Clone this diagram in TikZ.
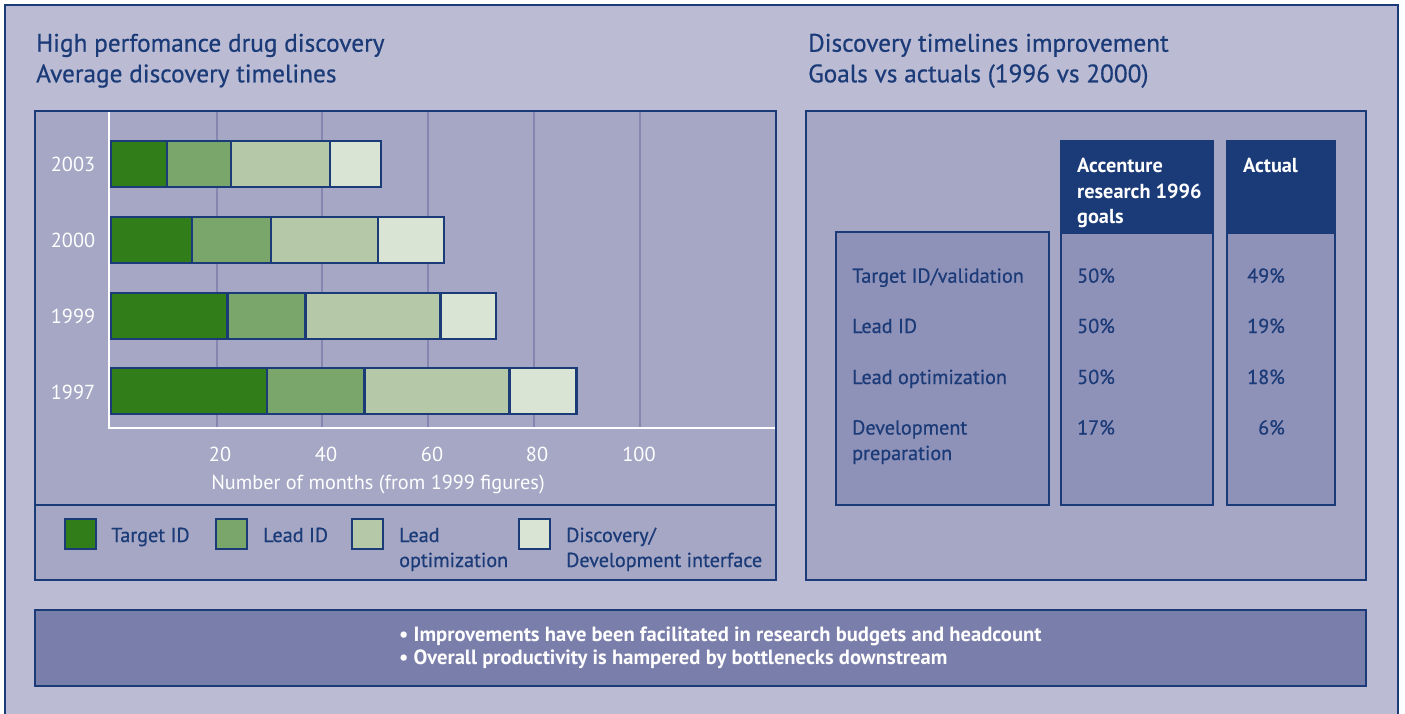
\documentclass[tikz,border=0pt]{standalone}
\usepackage{fontspec}
\setmainfont{PT Sans}
\newfontfamily\medfont[FakeBold=0.6]{PT Sans}
\definecolor{navy}{HTML}{1B3A78}
\definecolor{outerbg}{HTML}{BBBCD3}
\definecolor{panelbg}{HTML}{A5A7C5}
\definecolor{colbg}{HTML}{8F92B8}
\definecolor{botbg}{HTML}{7A7EAA}
\definecolor{gridc}{HTML}{8486B0}
\definecolor{gA}{HTML}{317D1A}
\definecolor{gB}{HTML}{7AA66B}
\definecolor{gC}{HTML}{B5C9A8}
\definecolor{gD}{HTML}{DAE4D4}
\begin{document}
\begin{tikzpicture}[x=1pt,y=-1pt,
  frame/.style={draw=navy,line width=2.5pt},
  seg/.style={draw=navy,line width=2.5pt},
  gridline/.style={draw=gridc,line width=2pt},
  title/.style={anchor=base west,inner sep=0pt,text=navy,font=\medfont\fontsize{25.3}{30}\selectfont},
  whitelbl/.style={anchor=base,inner sep=0pt,text=white,font=\fontsize{20.3}{24}\selectfont},
  navylbl/.style={anchor=base west,inner sep=0pt,text=navy,font=\medfont\fontsize{20.2}{24}\selectfont},
  headlbl/.style={anchor=base west,inner sep=0pt,text=white,font=\bfseries\fontsize{20.3}{24}\selectfont},
  botlbl/.style={anchor=base west,inner sep=0pt,text=white,font=\bfseries\fontsize{20.6}{24}\selectfont},
  legbox/.style={draw=navy,line width=2.5pt}
]
\useasboundingbox (0,0) rectangle (1405,714);
\fill[white] (0,0) rectangle (1405,714);
\draw[frame,line width=2pt,fill=outerbg] (5,5) rectangle (1398,740);

% titles
\node[title] (t1) at (36,51.7) {High perfomance drug discovery};
\node[title] (t2) at (36,82.3) {Average discovery timelines};
\node[title] (t3) at (808,51.7) {Discovery timelines improvement};
\node[title] (t4) at (808,82.3) {Goals vs actuals (1996 vs 2000)};

% left panel
\draw[frame,fill=panelbg] (35,111) rectangle (776,580);
\draw[frame] (35,505) -- (776,505);
\foreach \gx in {217,322,428,534,640} \draw[gridline] (\gx,112) -- (\gx,428);
\draw[white,line width=2.5pt] (109,112) -- (109,428) -- (775,428);

\foreach \yc/\a/\b/\c/\d/\e in {164/111/167/231/330/381, 240/111/192/271/378/444, 316/111/227.5/305.5/440.5/496, 391/111/267/364.5/509.5/576.5}{
  \draw[seg,fill=gA] (\a,\yc-23) rectangle (\b,\yc+23);
  \draw[seg,fill=gB] (\b,\yc-23) rectangle (\c,\yc+23);
  \draw[seg,fill=gC] (\c,\yc-23) rectangle (\d,\yc+23);
  \draw[seg,fill=gD] (\d,\yc-23) rectangle (\e,\yc+23);
}
\node[whitelbl] (y2003) at (73,171.7) {2003};
\node[whitelbl] (y2000) at (73,247.7) {2000};
\node[whitelbl] (y1999) at (73,323.7) {1999};
\node[whitelbl] (y1997) at (73,399) {1997};
\node[whitelbl] (x20) at (220,461) {20};
\node[whitelbl] (x40) at (326,461) {40};
\node[whitelbl] (x60) at (432,461) {60};
\node[whitelbl] (x80) at (537,461) {80};
\node[whitelbl] (x100) at (639,461) {100};
\node[whitelbl] (xt) at (378,489.3) {Number of months (from 1999 figures)};

% legend
\draw[legbox,fill=gA] (65,519) rectangle (96,549);
\node[navylbl] (l1) at (111,542) {Target ID};
\draw[legbox,fill=gB] (216,519) rectangle (247,549);
\node[navylbl] (l2) at (263,542) {Lead ID};
\draw[legbox,fill=gC] (352,519) rectangle (383,549);
\node[navylbl] (l3a) at (399,542) {Lead};
\node[navylbl] (l3b) at (399,567) {optimization};
\draw[legbox,fill=gD] (519,519) rectangle (550,549);
\node[navylbl] (l4a) at (566,542) {Discovery/};
\node[navylbl] (l4b) at (566,567) {Development interface};

% right panel
\draw[frame,fill=panelbg] (806,111) rectangle (1366,580);
\draw[frame,fill=navy] (1061,141) rectangle (1213,233);
\draw[frame,fill=colbg] (1061,233) rectangle (1213,505);
\draw[frame,fill=navy] (1227,141) rectangle (1335,233);
\draw[frame,fill=colbg] (1227,233) rectangle (1335,505);
\draw[frame,fill=colbg] (836,232) rectangle (1049,505);

\node[headlbl] (h1a) at (1077,172.7) {Accenture};
\node[headlbl] (h1b) at (1077,198.2) {research 1996};
\node[headlbl] (h1c) at (1077,223.7) {goals};
\node[headlbl] (h2) at (1243,172.7) {Actual};

\node[navylbl] (r1) at (852,282.7) {Target ID/validation};
\node[navylbl] (r2) at (852,333) {Lead ID};
\node[navylbl] (r3) at (852,384) {Lead optimization};
\node[navylbl] (r4a) at (852,434.5) {Development};
\node[navylbl] (r4b) at (852,460) {preparation};

\node[navylbl] (g1) at (1077,282.7) {50\%};
\node[navylbl] (g2) at (1077,333) {50\%};
\node[navylbl] (g3) at (1077,384) {50\%};
\node[navylbl] (g4) at (1077,434.5) {17\%};
\node[navylbl,anchor=base east] (a1) at (1285,282.7) {49\%};
\node[navylbl,anchor=base east] (a2) at (1285,333) {19\%};
\node[navylbl,anchor=base east] (a3) at (1285,384) {18\%};
\node[navylbl,anchor=base east] (a4) at (1285,434.5) {6\%};

% bottom box
\draw[frame,fill=botbg] (35,610) rectangle (1366,686);
\node[botlbl] (b1) at (399,641) {\textbullet\ Improvements have been facilitated in research budgets and headcount};
\node[botlbl] (b2) at (399,664.3) {\textbullet\ Overall productivity is hampered by bottlenecks downstream};
\end{tikzpicture}
\end{document}
